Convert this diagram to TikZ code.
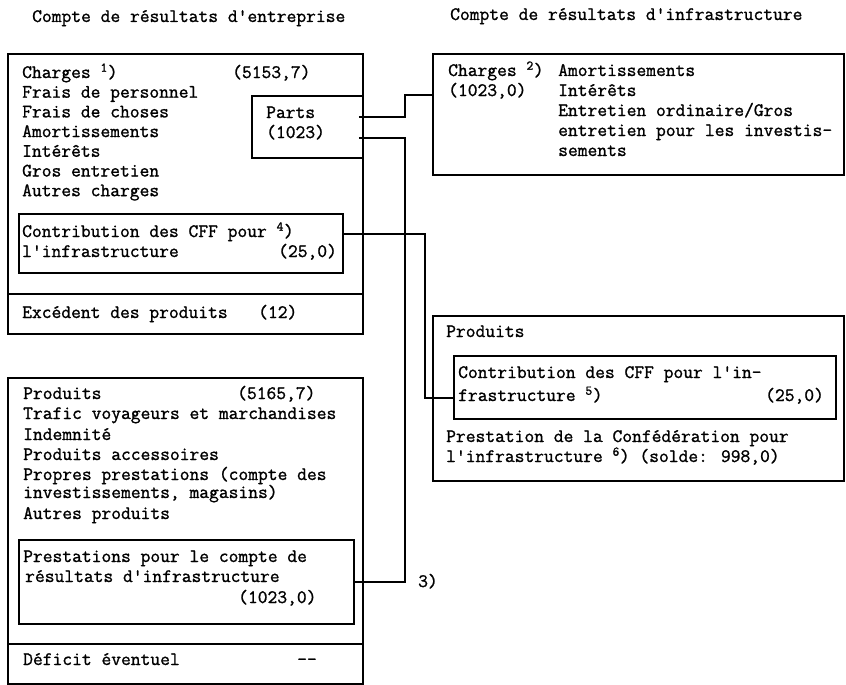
\documentclass[tikz,border=0pt]{standalone}
\usepackage{fontspec}
\newfontfamily\typefont{Latin Modern Mono}[FakeBold=1.2]
\newcommand{\typew}{\fontsize{19}{20}\selectfont\typefont}
\tikzset{
  box/.style={draw, line width=1.8pt, inner sep=0pt, anchor=north west},
  txt/.style={anchor=base west, inner sep=0pt, font=\typew},
  link/.style={line width=1.8pt}
}
\begin{document}
\begin{tikzpicture}[x=1pt,y=-1pt]
      \useasboundingbox (0,0) rectangle (846,685);
      % titles
      \node[txt] (tent) at (32,22) {Compte de résultats d'entreprise};
      \node[txt] (tinf) at (450,20) {Compte de résultats d'infrastructure};
      % boxes
      \node[box, minimum width=355pt, minimum height=240pt] (charges) at (7,53) {};
      \node[box, minimum width=355pt, minimum height=40pt] (excedent) at (7,293) {};
      \node[box, minimum width=111pt, minimum height=62pt] (parts) at (251,95) {};
      \node[box, minimum width=324pt, minimum height=59pt] (contrib) at (18,213) {};
      \node[box, minimum width=355pt, minimum height=266pt] (produits) at (7,377) {};
      \node[box, minimum width=355pt, minimum height=40pt] (deficit) at (7,643) {};
      \node[box, minimum width=335pt, minimum height=84pt] (prest) at (18,539) {};
      \node[box, minimum width=411pt, minimum height=121pt] (infcharges) at (432,53) {};
      \node[box, minimum width=411pt, minimum height=165pt] (infproduits) at (432,315) {};
      \node[box, minimum width=382pt, minimum height=63pt] (infcontrib) at (453,355) {};
      % compte d'entreprise, charges
      \node[txt] (ch) at (22,78) {Charges \textsuperscript{1})};
      \node[txt] (chval) at (232,78) {(5153,7)};
      \foreach \rowtext [count=\i from 1] in {Frais de personnel, Frais de choses, Amortissements, Intérêts, Gros entretien, Autres charges}
        \node[txt] (ch\i) at (22,{78+19.7*\i}) {\rowtext};
      \node[txt] (pa) at (266,118) {Parts};
      \node[txt] (paval) at (266,138) {(1023)};
      \node[txt] (co1) at (22,237) {Contribution des CFF pour \textsuperscript{4})};
      \node[txt] (co2) at (22,257) {l'infrastructure};
      \node[txt] (coval) at (278,257) {(25,0)};
      \node[txt] (ex) at (22,318) {Excédent des produits};
      \node[txt] (exval) at (258,318) {(12)};
      % compte d'entreprise, produits
      \node[txt] (pr) at (23,399) {Produits};
      \node[txt] (prval) at (237,399) {(5165,7)};
      \foreach \y/\rowtext [count=\i] in {419/Trafic voyageurs et marchandises, 440/Indemnité, 460/Produits accessoires, 480/Propres prestations (compte des, 498/{investissements, magasins)}, 519/Autres produits}
        \node[txt] (pr\i) at (23,\y) {\rowtext};
      \node[txt] (ps1) at (23,562) {Prestations pour le compte de};
      \node[txt] (ps2) at (25,582) {résultats d'infrastructure};
      \node[txt] (psval) at (238,603) {(1023,0)};
      \node[txt] (de) at (23,665) {Déficit éventuel};
      \node[txt] (deval) at (297,665) {--};
      % compte d'infrastructure
      \node[txt] (ic) at (448,76) {Charges \textsuperscript{2})};
      \node[txt] (icval) at (448,96) {(1023,0)};
      \node[txt] (ic1) at (558,76) {Amortissements};
      \node[txt] (ic2) at (558,96) {Intérêts};
      \node[txt] (ic3) at (558,116) {Entretien ordinaire/Gros};
      \node[txt] (ic4) at (558,136) {entretien pour les investis-};
      \node[txt] (ic5) at (558,156) {sements};
      \node[txt] (ip) at (446,337) {Produits};
      \node[txt] (ip1) at (458,378) {Contribution des CFF pour l'in-};
      \node[txt] (ip2) at (458,401) {frastructure \textsuperscript{5})};
      \node[txt] (ipval) at (765,401) {(25,0)};
      \node[txt] (ip3) at (446,442) {Prestation de la Confédération pour};
      \node[txt] (ip4) at (446,462) {l'infrastructure \textsuperscript{6}) (solde: 998,0)};
      % connectors
      \draw[link] ([xshift=-5pt,yshift=10pt]parts.east) -- ++(46,0) |- (infcharges.west |- parts.north);
      \draw[link] ([xshift=-5pt,yshift=-11pt]parts.east) -- ++(46,0) |- (prest.east);
      \draw[link] ([yshift=9.5pt]contrib.east) -- ++(81,0) |- ([yshift=-10.5pt]infcontrib.west);
      \node[txt] (n3) at (418,587) {3)};
    \end{tikzpicture}
\end{document}
